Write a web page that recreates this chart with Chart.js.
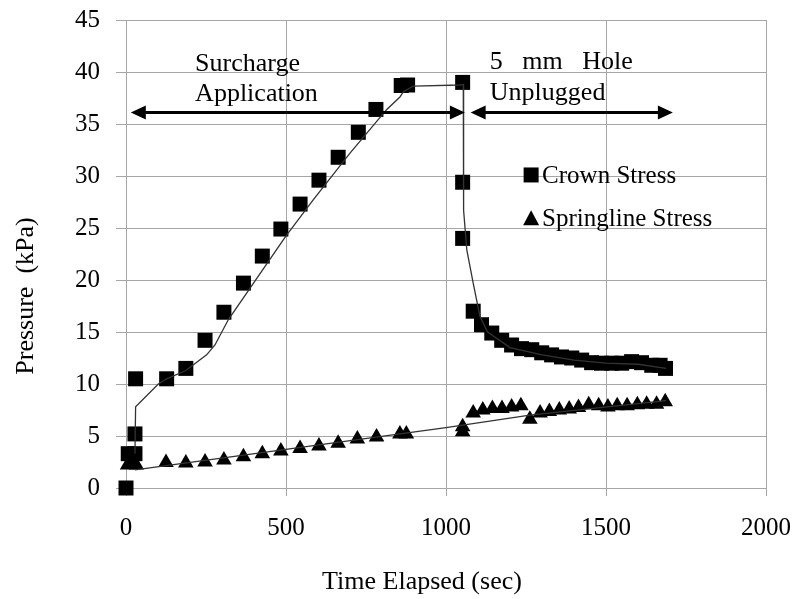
<!DOCTYPE html>
<html>
<head>
<meta charset="utf-8">
<script src="https://cdn.jsdelivr.net/npm/chart.js@4.4.0/dist/chart.umd.min.js"></script>
<style>
    html, body { margin: 0; padding: 0; background: #fff; }
    canvas { display: block; }
</style>
</head>
<body>
<canvas id="chart" width="795" height="599"></canvas>
<script>
// Crown stress (squares)
const crown_time = [0, 7, 28, 28, 30, 127, 187, 247, 306, 367, 426, 484, 544, 603, 663, 726, 781, 860, 880,
    1052, 1052, 1052, 1085, 1111, 1143, 1174, 1205, 1236, 1268, 1299, 1330, 1361, 1393, 1424, 1455, 1486,
    1518, 1549, 1580, 1611, 1643, 1669, 1686];
const crown_stress = [0, 3.3, 3.3, 5.2, 10.5, 10.5, 11.5, 14.2, 16.9, 19.7, 22.3, 24.9, 27.3, 29.6, 31.8, 34.2, 36.4, 38.7, 38.75,
    39.0, 29.4, 24.0, 17.0, 15.7, 14.9, 14.2, 13.75, 13.4, 13.3, 13.0, 12.8, 12.6, 12.5, 12.3, 12.05, 12.0,
    12.0, 12.0, 12.15, 12.05, 11.8, 11.8, 11.5];

// Springline stress (triangles)
const spring_time = [5, 18, 32, 125, 187, 247, 306, 367, 426, 484, 544, 603, 663, 723, 783, 856, 876,
    1052, 1052, 1085, 1115, 1145, 1175, 1205, 1234, 1262, 1294, 1323, 1354, 1385, 1414, 1446, 1477, 1506,
    1535, 1566, 1598, 1627, 1658, 1685];
const spring_stress = [2.2, 2.6, 2.2, 2.45, 2.4, 2.5, 2.7, 3.0, 3.3, 3.55, 3.8, 4.05, 4.3, 4.7, 4.9, 5.2, 5.2,
    5.4, 5.9, 7.2, 7.5, 7.65, 7.65, 7.8, 7.9, 6.6, 7.2, 7.35, 7.5, 7.6, 7.75, 8.0, 7.9, 7.8,
    7.9, 7.9, 8.0, 8.05, 8.05, 8.3];

// trend lines (no legend entry)
const crown_line_time = [28, 30, 101, 127, 187, 252, 278, 320, 499, 585, 700, 815, 856, 867, 898, 1044, 1054,
    1055, 1065, 1085, 1106, 1130, 1200, 1300, 1400, 1500, 1600, 1688];
const crown_line_stress = [3.3, 7.8, 10.0, 10.5, 11.3, 12.8, 13.75, 16.2, 24.2, 27.7, 32.2, 36.4, 37.6, 38.1, 38.65, 38.75, 38.8,
    26.7, 22.9, 19.7, 16.5, 15.0, 13.5, 12.8, 12.3, 12.0, 11.9, 11.5];
const spring_line_time = [28, 1000, 1262, 1688];
const spring_line_stress = [1.75, 5.8, 7.0, 8.4];

const x_ticks = [0, 500, 1000, 1500, 2000];
const y_ticks = [0, 5, 10, 15, 20, 25, 30, 35, 40, 45];

// annotations (data coords)
const arrows = [[15, 1059, 36.1], [1077, 1709, 36.1]];
const notes = [
    ['Surcharge', 216, 40.1], ['Application', 216, 37.2],
    ['5   mm   Hole', 1137, 40.3], ['Unplugged', 1137, 37.3]
];

const FONT = '"Liberation Serif", "Times New Roman", serif';
const GRID = '#a6a6a6';

function toXY(xs, ys) {
    let out = [];
    for (let i = 0; i < xs.length; i++) out.push({x: xs[i], y: ys[i]});
    return out;
}

function marker(ctx, style, x, y) {
    ctx.beginPath();
    if (style === 'rect') {
        ctx.rect(x - 7.5, y - 7.5, 15, 15);
    } else {
        ctx.moveTo(x, y - 8.5);
        ctx.lineTo(x + 8, y + 6.5);
        ctx.lineTo(x - 8, y + 6.5);
        ctx.closePath();
    }
    ctx.fill();
}

const extras = {
    id: 'extras',
    afterDatasetsDraw(chart) {
        const ctx = chart.ctx;
        const xs = chart.scales.x, ys = chart.scales.y;
        ctx.save();
        ctx.fillStyle = '#000';
        ctx.strokeStyle = '#000';

        // double arrows
        ctx.lineWidth = 3;
        arrows.forEach(a => {
            const x1 = xs.getPixelForValue(a[0]), x2 = xs.getPixelForValue(a[1]);
            const y = ys.getPixelForValue(a[2]);
            ctx.beginPath();
            ctx.moveTo(x1 + 10, y);
            ctx.lineTo(x2 - 10, y);
            ctx.stroke();
            ctx.beginPath();
            ctx.moveTo(x1, y); ctx.lineTo(x1 + 15, y - 7); ctx.lineTo(x1 + 15, y + 7); ctx.closePath();
            ctx.fill();
            ctx.beginPath();
            ctx.moveTo(x2, y); ctx.lineTo(x2 - 15, y - 7); ctx.lineTo(x2 - 15, y + 7); ctx.closePath();
            ctx.fill();
        });

        // text notes
        ctx.font = '26px ' + FONT;
        ctx.textAlign = 'left';
        ctx.textBaseline = 'alphabetic';
        notes.forEach(n => {
            ctx.fillText(n[0], xs.getPixelForValue(n[1]), ys.getPixelForValue(n[2]));
        });

        // legend
        const lx = xs.getPixelForValue(1266);
        ctx.font = '25px ' + FONT;
        ctx.textBaseline = 'middle';
        marker(ctx, 'rect', lx, ys.getPixelForValue(30.1));
        ctx.fillText('Crown Stress', lx + 11, ys.getPixelForValue(30.1) + 1);
        marker(ctx, 'triangle', lx, ys.getPixelForValue(25.9));
        ctx.fillText('Springline Stress', lx + 11, ys.getPixelForValue(25.9) + 1);

        // axis titles
        ctx.font = '26px ' + FONT;
        ctx.textAlign = 'center';
        ctx.fillText('Time Elapsed (sec)', 422, 582);
        ctx.translate(26, 296);
        ctx.rotate(-Math.PI / 2);
        ctx.fillText('Pressure  (kPa)', 0, 0);
        ctx.restore();
    }
};

new Chart(document.getElementById('chart'), {
    type: 'scatter',
    data: {
        datasets: [
            {
                label: 'crown line',
                data: toXY(crown_line_time, crown_line_stress),
                showLine: true,
                borderColor: '#333',
                borderWidth: 1.3,
                pointRadius: 0,
                order: 0
            },
            {
                label: 'springline line',
                data: toXY(spring_line_time, spring_line_stress),
                showLine: true,
                borderColor: '#333',
                borderWidth: 1.3,
                pointRadius: 0,
                order: 0
            },
            {
                label: 'Crown Stress',
                data: toXY(crown_time, crown_stress),
                pointStyle: 'rect',
                pointRadius: 10.6,
                backgroundColor: '#000',
                borderWidth: 0,
                clip: false,
                order: 1
            },
            {
                label: 'Springline Stress',
                data: toXY(spring_time, spring_stress),
                pointStyle: 'triangle',
                pointRadius: 9,
                backgroundColor: '#000',
                borderWidth: 0,
                clip: false,
                order: 1
            }
        ]
    },
    options: {
        responsive: false,
        animation: false,
        devicePixelRatio: 1,
        layout: {padding: {left: 0, right: 29, top: 20, bottom: 0}},
        plugins: {legend: {display: false}, tooltip: {enabled: false}},
        scales: {
            x: {
                type: 'linear',
                min: 0, max: 2000,
                afterBuildTicks: s => { s.ticks = x_ticks.map(v => ({value: v})); },
                afterFit: s => { s.height = 111; s.paddingLeft = 0; s.paddingRight = 0; },
                grid: {color: GRID, lineWidth: 1, tickLength: 8, drawTicks: true},
                border: {color: GRID},
                ticks: {color: '#000', font: {family: FONT, size: 25}, padding: 17, maxRotation: 0,
                    callback: v => String(v)}
            },
            y: {
                type: 'linear',
                min: 0, max: 45,
                afterBuildTicks: s => { s.ticks = y_ticks.map(v => ({value: v})); },
                afterFit: s => { s.width = 126; s.paddingTop = 0; s.paddingBottom = 0; },
                grid: {color: GRID, lineWidth: 1, tickLength: 10, drawTicks: true},
                border: {color: GRID},
                ticks: {color: '#000', font: {family: FONT, size: 25}, padding: 16,
                    callback: v => String(v)}
            }
        }
    },
    plugins: [extras]
});
</script>
</body>
</html>
